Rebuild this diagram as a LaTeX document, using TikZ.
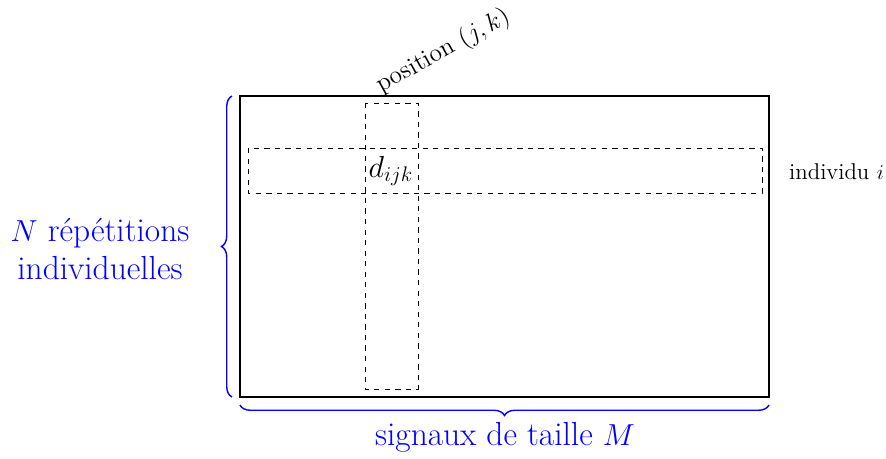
\documentclass[tikz,border=0pt]{standalone}
\usepackage{amsmath}
\usepackage{tikz}
\usetikzlibrary{decorations.pathreplacing}

\begin{document}
\begin{tikzpicture}[x=0.02cm,y=0.02cm,
    blocbrace/.style={blue, thick, decorate, decoration={brace, amplitude=6}},
    bleutxt/.style={blue, font=\fontsize{19}{22}\selectfont, align=center}]
    \useasboundingbox (0,0) rectangle (886,458);

    % tableau des donnees
    \coordinate (hg) at (240,362);
    \coordinate (bd) at (769,61);
    \draw[line width=1pt] (hg) rectangle (bd);

    % colonne (j,k) et ligne i
    \draw[dashed] (365,355) rectangle (418,69);
    \draw[dashed] (248,310) rectangle (762,265);

    \node[font=\LARGE] (d) at (391,287) {$d_{ijk}$};
    \node[font=\fontsize{13}{15}\selectfont, anchor=west] (ind) at (783,286) {individu $i$};
    \node[font=\Large, anchor=south west, inner sep=0pt, rotate=29] (pos) at (384,359) {position $(j,k)$};

    % accolades
    \draw[blocbrace] (232,61) -- (232,362);
    \draw[blocbrace] (769,53) -- (240,53);
    \node[bleutxt] (rep) at (100,209) {$N$ répétitions\\individuelles};
    \node[bleutxt] (sig) at (505,21) {signaux de taille $M$};
\end{tikzpicture}
\end{document}
